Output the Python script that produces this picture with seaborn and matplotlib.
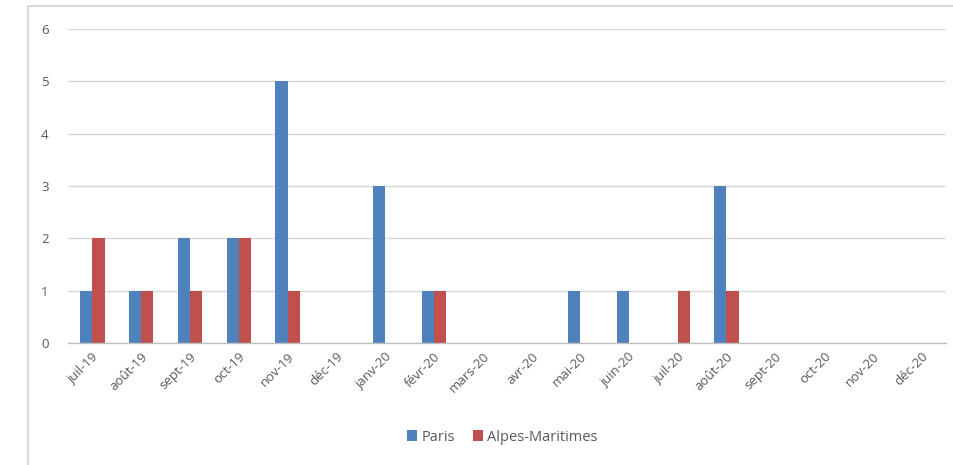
import pandas as pd
import numpy as np
import matplotlib
matplotlib.use("Agg")
import matplotlib.pyplot as plt
import seaborn as sns
from matplotlib.lines import Line2D

# === Data ===
months = ["juil-19", "août-19", "sept-19", "oct-19", "nov-19", "déc-19",
          "janv-20", "févr-20", "mars-20", "avr-20", "mai-20", "juin-20",
          "juil-20", "août-20", "sept-20", "oct-20", "nov-20", "déc-20"]
paris = [1, 1, 2, 2, 5, 0, 3, 1, 0, 0, 1, 1, 0, 3, 0, 0, 0, 0]
alpes = [2, 1, 1, 2, 1, 0, 0, 1, 0, 0, 0, 0, 1, 1, 0, 0, 0, 0]

df = pd.DataFrame({
    "mois": months * 2,
    "valeur": paris + alpes,
    "zone": ["Paris"] * len(months) + ["Alpes-Maritimes"] * len(months),
})

# === Style ===
sns.set_theme(style="white")
plt.rcParams["font.family"] = ["Open Sans", "DejaVu Sans"]
text_col = "#595959"
colors = {"Paris": "#4F81BD", "Alpes-Maritimes": "#C0504D"}

fig = plt.figure(figsize=(9.54, 4.65), dpi=100)
ax = fig.add_axes([0.0713, 0.2624, 0.9203, 0.6752])

sns.barplot(data=df, x="mois", y="valeur", hue="zone", palette=colors,
            width=0.5, saturation=1, linewidth=0, ax=ax, legend=True)

# Axes formatting
ax.set_ylim(0, 6)
ax.set_xlim(-0.5, len(months) - 0.5)
ax.set_yticks(range(0, 7))
ax.yaxis.grid(True, color="#d9d9d9", linewidth=1)
ax.set_axisbelow(True)
for side in ["top", "right", "left"]:
    ax.spines[side].set_visible(False)
ax.spines["bottom"].set_color("#bfbfbf")
ax.spines["bottom"].set_linewidth(1)

ax.set_xlabel("")
ax.set_ylabel("")
ax.tick_params(axis="y", length=0, pad=14, labelsize=9.5, labelcolor=text_col)
ax.tick_params(axis="x", which="major", length=0, pad=5, labelsize=9.5,
               labelcolor=text_col)
plt.setp(ax.get_xticklabels(), rotation=45, ha="right", rotation_mode="anchor")
ax.set_xticks(np.arange(-0.5, len(months), 1.0), minor=True)
ax.tick_params(axis="x", which="minor", length=4, color="#bfbfbf", width=1,
               direction="out")

# Legend below
handles, labels = ax.get_legend_handles_labels()
ax.legend(handles, labels, loc="center", bbox_to_anchor=(0.495, -0.30),
          ncol=2, frameon=False, fontsize=10.5, handlelength=0.7,
          handleheight=0.7, handletextpad=0.3, columnspacing=1.2,
          labelcolor=text_col)

# Outer chart frame
fig.add_artist(Line2D([0.0294, 0.0294], [0.0, 0.987], color="#d9d9d9",
                      linewidth=1.5, transform=fig.transFigure))
fig.add_artist(Line2D([0.0294, 1.0], [0.987, 0.987], color="#d9d9d9",
                      linewidth=1.5, transform=fig.transFigure))

fig.savefig("out.png", dpi=100, facecolor="white")
